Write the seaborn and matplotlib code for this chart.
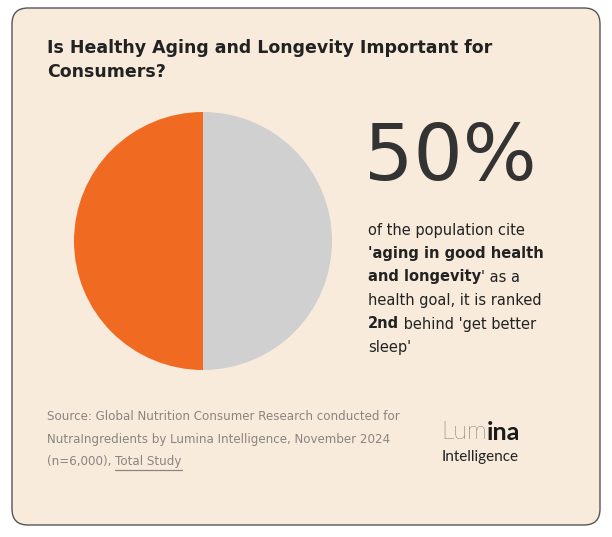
import matplotlib
matplotlib.use("Agg")
import matplotlib.pyplot as plt
import seaborn as sns
from matplotlib.patches import FancyBboxPatch

labels = ["Aging in good health and longevity", "Other"]
values = [50, 50]
colors = ["#F06A22", "#D0D0D0"]
headline = "50%"

sns.set_style("white")
W, H = 612, 537
fig = plt.figure(figsize=(6.12, 5.37), dpi=100)
fig.patch.set_facecolor("white")
bg = fig.add_axes([0, 0, 1, 1]); bg.set_xlim(0, W); bg.set_ylim(H, 0); bg.axis("off")
bg.add_patch(FancyBboxPatch((12, 8), W - 24, H - 20, boxstyle="round,pad=0,rounding_size=16",
                            fc="#F8EBDC", ec="#555555", lw=1.0))

ax = fig.add_axes([(203 - 129) / W, (H - 241 - 129) / H, 258 / W, 258 / H])
ax.pie(values, colors=colors, startangle=90, counterclock=True,
       wedgeprops=dict(linewidth=0))
ax.set_aspect("auto"); ax.set_xlim(-1, 1); ax.set_ylim(-1, 1); ax.axis("off")

fam = "DejaVu Sans"
bg.text(47, 48, "Is Healthy Aging and Longevity Important for", fontsize=12.5, fontweight="bold",
        color="#222222", va="center", family=fam)
bg.text(47, 72, "Consumers?", fontsize=12.5, fontweight="bold", color="#222222", va="center", family=fam)
bg.text(364, 158, headline, fontsize=56, color="#333333", va="center", family=fam)

fig.canvas.draw()
r = fig.canvas.get_renderer()
inv = bg.transData.inverted()

def seg_line(x, y, segs, size, color, under=None, f=fam):
    for txt, w in segs:
        t = bg.text(x, y, txt, fontsize=size, fontweight=w, color=color, va="center", family=f)
        bb = t.get_window_extent(r)
        (x0, _), (x1, y1) = inv.transform([(bb.x0, bb.y0), (bb.x1, bb.y0)])
        if under == txt:
            bg.plot([x0, x1], [y + 8, y + 8], color=color, lw=0.9)
        x = x1

dark = "#222222"
body = [
    [("of the population cite", "normal")],
    [("'aging in good health", "bold")],
    [("and longevity", "bold"), ("' as a", "normal")],
    [("health goal, it is ranked", "normal")],
    [("2nd", "bold"), (" behind 'get better", "normal")],
    [("sleep'", "normal")],
]
for i, segs in enumerate(body):
    seg_line(368, 230 + 23.5 * i, segs, 10.5, dark)

g = "#8A8480"
seg_line(47, 417, [("Source: Global Nutrition Consumer Research conducted for", "normal")], 8.6, g)
seg_line(47, 440, [("NutraIngredients by Lumina Intelligence, November 2024", "normal")], 8.6, g)
seg_line(47, 462, [("(n=6,000), ", "normal"), ("Total Study", "normal")], 8.6, g, under="Total Study")

seg_line(441, 432, [("Lum", "light"), ("ina", "bold")], 18, "#1A1A1A", f="Lato")
bg.text(442, 457, "Intelligence", fontsize=11, color="#222222", va="center", family="Lato")

fig.savefig("out.png", dpi=100, facecolor=fig.get_facecolor())
